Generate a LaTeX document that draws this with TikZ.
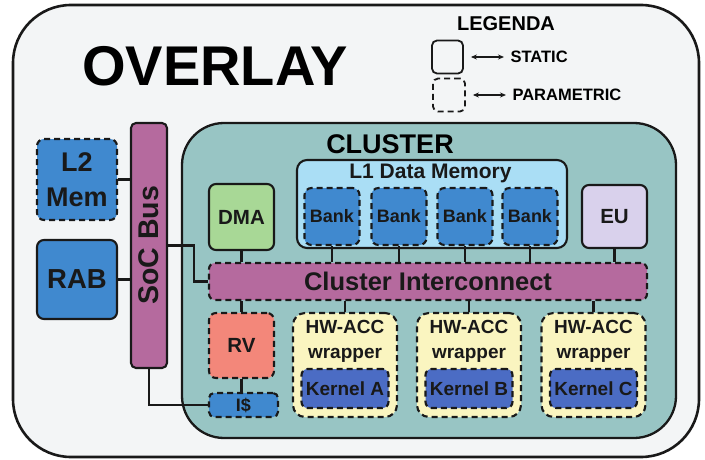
\documentclass[tikz,border=0pt]{standalone}
\usepackage{fontspec}
\setmainfont{Liberation Sans}
\usetikzlibrary{arrows.meta, calc}
\definecolor{overlaybg}{RGB}{243,245,246}
\definecolor{clusterbg}{RGB}{152,197,196}
\definecolor{l1blue}{RGB}{170,222,245}
\definecolor{memblue}{RGB}{64,137,207}
\definecolor{busmagenta}{RGB}{181,106,158}
\definecolor{dmagreen}{RGB}{168,216,150}
\definecolor{eulilac}{RGB}{217,209,236}
\definecolor{rvsalmon}{RGB}{243,135,122}
\definecolor{accyellow}{RGB}{250,245,192}
\definecolor{kernblue}{RGB}{75,108,196}
\newcommand{\pxfont}[1]{\fontsize{#1}{1.3\dimexpr#1pt\relax}\selectfont\bfseries}

\begin{document}
\begin{tikzpicture}[x=1pt, y=-1pt, >=Stealth,
  block/.style={draw=black!90, line width=2.1pt, rounded corners=7pt,
                align=center, inner sep=0pt, text=black!90},
  parblock/.style={block, dash pattern=on 6pt off 4pt},
  wire/.style={line width=2.1pt, black!90},
  legarrow/.style={{Stealth[length=6pt,width=5pt]}-{Stealth[length=6pt,width=5pt]}, line width=1.2pt, black!90}]
  \useasboundingbox (0,0) rectangle (705,460);

  % Overlay and cluster frames
  \draw[line width=2.6pt, black!90, fill=overlaybg, rounded corners=58pt] (13,5) rectangle (699,457);
  \draw[line width=2.3pt, black!90, fill=clusterbg, rounded corners=42pt] (182,123) rectangle (676,438);
  \node[font=\pxfont{56}] (title) at (215,66) {OVERLAY};
  \node[font=\pxfont{27}] (clustertitle) at (390,144) {CLUSTER};

  % Legend
  \node[font=\pxfont{20}] (legtitle) at (506,23.5) {LEGENDA};
  \node[block, line width=1.8pt, rounded corners=5pt, minimum width=31pt, minimum height=33pt] (statkey) at (447.5,57) {};
  \node[parblock, line width=1.8pt, rounded corners=5pt, minimum width=32pt, minimum height=33pt] (parkey) at (449,95) {};
  \node[font=\pxfont{16.5}, anchor=west] (stattxt) at (507,57) {STATIC};
  \node[font=\pxfont{16.5}, anchor=west] (partxt) at (509,95) {PARAMETRIC};
  \draw[legarrow, shorten <=7pt, shorten >=3pt] (statkey.east) -- (stattxt.west);
  \draw[legarrow, shorten <=7pt, shorten >=3pt] (parkey.east) -- (partxt.west);

  % SoC side
  \node[parblock, fill=memblue, minimum width=80pt, minimum height=81pt, font=\pxfont{27}] (l2) at (77,179.5) {L2\\Mem};
  \node[block, fill=memblue, minimum width=80pt, minimum height=79pt, font=\pxfont{27.5}] (rab) at (77,279.5) {RAB};
  \node[block, fill=busmagenta, rounded corners=5pt, minimum width=36pt, minimum height=245pt] (socbus) at (149,245.5) {};
  \node[rotate=90, font=\pxfont{28.5}, text=black!90] (soclabel) at (socbus) {SoC Bus};

  % L1 memory
  \node[block, fill=l1blue, rounded corners=10pt, minimum width=270pt, minimum height=88pt] (l1) at (432,204) {};
  \node[font=\pxfont{21}, text=black!90] (l1label) at (430.5,173) {L1 Data Memory};
  \foreach \i/\x in {1/332, 2/399, 3/465, 4/530}
    \node[parblock, fill=memblue, minimum width=55pt, minimum height=57pt, font=\pxfont{18}] (bank\i) at (\x,216.5) {Bank};

  % Cluster blocks
  \node[block, fill=dmagreen, minimum width=65pt, minimum height=66pt, font=\pxfont{20.5}] (dma) at (241.5,217) {DMA};
  \node[block, fill=eulilac, minimum width=65pt, minimum height=63pt, font=\pxfont{20.5}] (eu) at (614.5,216.5) {EU};
  \node[parblock, fill=busmagenta, rounded corners=6pt, minimum width=438pt, minimum height=37pt, font=\pxfont{25.5}] (ic) at (428,281.5) {Cluster Interconnect};
  \node[parblock, fill=rvsalmon, minimum width=65pt, minimum height=65pt, font=\pxfont{20.5}] (rv) at (241.5,345.5) {RV};
  \node[parblock, fill=memblue, rounded corners=5pt, minimum width=69pt, minimum height=24pt, font=\pxfont{18}] (icache) at (243.5,405) {I\$};
  \foreach \i/\x/\k in {1/345/A, 2/469/B, 3/593.5/C} {
    \node[parblock, fill=accyellow, rounded corners=12pt, minimum width=104pt, minimum height=104pt] (acc\i) at (\x,365) {};
    \node[font=\pxfont{19}, align=center, text=black!90] (acclabel\i) at ($(acc\i.north)+(0,29.5)$) {HW-ACC\\wrapper};
    \node[parblock, fill=kernblue, rounded corners=6pt, minimum width=87pt, minimum height=39pt, font=\pxfont{19}] (kern\i) at (\x,388.5) {Kernel \k};
  }

  % Connections
  \draw[wire] (l2.east) -- (l2.east -| socbus.west);
  \draw[wire] (rab.east) -- (rab.east -| socbus.west);
  \draw[wire] (socbus.east) -- ++(26,0) |- (ic.west);
  \draw[wire] (socbus.south) |- (icache.west);
  \draw[wire] (dma.south) -- (dma.south |- ic.north);
  \draw[wire] (eu.south) -- (eu.south |- ic.north);
  \foreach \i in {1,...,4}
    \draw[wire] (bank\i.south) -- (bank\i.south |- ic.north);
  \draw[wire] (ic.south -| rv.north) -- (rv.north);
  \foreach \i in {1,2,3}
    \draw[wire] (ic.south -| acc\i.north) -- (acc\i.north);
  \draw[wire] (rv.south) -- (rv.south |- icache.north);
\end{tikzpicture}
\end{document}
